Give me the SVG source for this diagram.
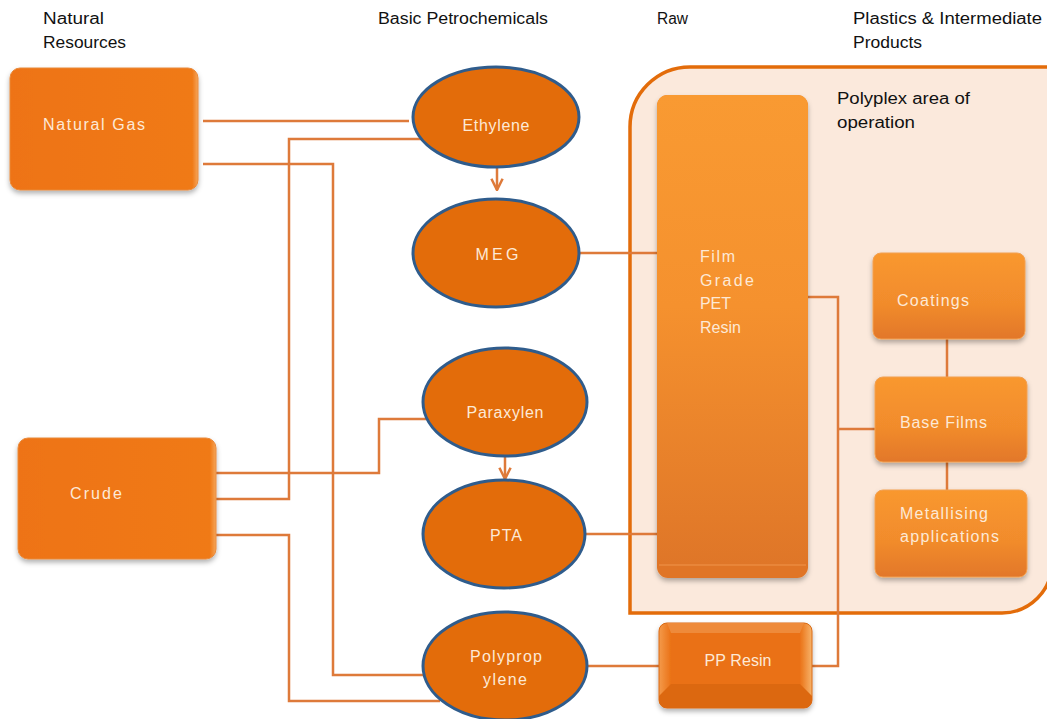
<svg xmlns="http://www.w3.org/2000/svg" width="1047" height="719" viewBox="0 0 1047 719">
<defs>
  <style>
    .hdr{font-family:"Liberation Sans",Arial,sans-serif;font-size:16px;fill:#111;}
    .lbl{font-family:"Liberation Sans",Arial,sans-serif;font-size:16px;fill:#FDE9D6;}
    .conn{fill:none;stroke:#DE7A3A;stroke-width:2.5;}
    .ell{fill:#E36C0A;stroke:#2F5C8C;stroke-width:3;}
    .src{fill:url(#srcGrad);stroke:#E98A3C;stroke-width:1;}
    .prod{fill:url(#prodGrad);stroke:#F2A050;stroke-width:1;}
  </style>
  <linearGradient id="srcGrad" x1="0" y1="0" x2="1" y2="0">
    <stop offset="0" stop-color="#EE7313"/>
    <stop offset="0.97" stop-color="#F07A18"/>
    <stop offset="1" stop-color="#F5A65A"/>
  </linearGradient>
  <linearGradient id="prodGrad" x1="0" y1="0" x2="0" y2="1">
    <stop offset="0" stop-color="#F9982F"/>
    <stop offset="0.6" stop-color="#F18B2C"/>
    <stop offset="1" stop-color="#E2772A"/>
  </linearGradient>
  <linearGradient id="petGrad" x1="0" y1="0" x2="0" y2="1">
    <stop offset="0" stop-color="#F99A32"/>
    <stop offset="0.45" stop-color="#F5912E"/>
    <stop offset="1" stop-color="#DF7628"/>
  </linearGradient>
  <linearGradient id="ppSide" x1="0" y1="0" x2="1" y2="0">
    <stop offset="0" stop-color="#F49A4A"/>
    <stop offset="0.08" stop-color="#EA7115"/>
    <stop offset="0.92" stop-color="#EA7115"/>
    <stop offset="1" stop-color="#F7B36A"/>
  </linearGradient>
  <filter id="shadow" x="-10%" y="-10%" width="125%" height="130%">
    <feDropShadow dx="0" dy="3" stdDeviation="2.5" flood-color="#000" flood-opacity="0.3"/>
  </filter>
  <marker id="arrow" viewBox="0 0 10 10" refX="9" refY="5" markerWidth="14" markerHeight="14" markerUnits="userSpaceOnUse" orient="auto">
    <path d="M1,1 L9,5 L1,9" fill="none" stroke="#DE7A3A" stroke-width="1.8"/>
  </marker>
</defs>

<rect width="1047" height="719" fill="#FFFFFF"/>

<!-- Headers -->
<g id="headers">
  <text class="hdr" x="43" y="24" textLength="61" lengthAdjust="spacingAndGlyphs">Natural</text>
  <text class="hdr" x="43" y="48" textLength="83" lengthAdjust="spacingAndGlyphs">Resources</text>
  <text class="hdr" x="378" y="24" textLength="170" lengthAdjust="spacingAndGlyphs">Basic Petrochemicals</text>
  <text class="hdr" x="657" y="24" textLength="31" lengthAdjust="spacingAndGlyphs">Raw</text>
  <text class="hdr" x="853" y="24" textLength="189" lengthAdjust="spacingAndGlyphs">Plastics &amp; Intermediate</text>
  <text class="hdr" x="853" y="48" textLength="69" lengthAdjust="spacingAndGlyphs">Products</text>
</g>

<!-- Polyplex area container -->
<g id="polyplex-area">
  <path d="M630,613 L630,127 A60,60 0 0 1 690,67 L1052,67 L1052,563 A50,50 0 0 1 1002,613 Z" fill="#FBE9DC" stroke="#E36C0A" stroke-width="3.5"/>
  <text class="hdr" x="837" y="104" textLength="133" lengthAdjust="spacingAndGlyphs">Polyplex area of</text>
  <text class="hdr" x="837" y="128" textLength="78" lengthAdjust="spacingAndGlyphs">operation</text>
</g>

<!-- Connectors -->
<g id="connectors">
  <path class="conn" d="M203,121 H409"/>
  <path class="conn" d="M216,499 H289 V139 H421"/>
  <path class="conn" d="M203,164 H333 V675 H424"/>
  <path class="conn" d="M216,473 H379 V419 H430"/>
  <path class="conn" d="M216,535 H289 V701 H440"/>
  <path class="conn" d="M579,253 H657"/>
  <path class="conn" d="M585,534 H657"/>
  <path class="conn" d="M587,666 H659"/>
  <path class="conn" d="M812,666 H838 V297 H808"/>
  <path class="conn" d="M838,429 H875"/>
  <path class="conn" d="M947,339 V377"/>
  <path class="conn" d="M947,462 V490"/>
  <path class="conn" d="M497,167 V190" marker-end="url(#arrow)"/>
  <path class="conn" d="M505,457 V479" marker-end="url(#arrow)"/>
</g>

<!-- Natural resources -->
<g id="natural-gas">
  <rect class="src" x="10" y="68" width="188" height="122" rx="10" filter="url(#shadow)"/>
  <text class="lbl" x="43" y="130" textLength="102" lengthAdjust="spacing">Natural Gas</text>
</g>
<g id="crude">
  <rect class="src" x="18" y="438" width="198" height="121" rx="10" filter="url(#shadow)"/>
  <text class="lbl" x="70" y="499" textLength="52" lengthAdjust="spacing">Crude</text>
</g>

<!-- Basic petrochemicals -->
<g id="ethylene">
  <ellipse class="ell" cx="496" cy="117" rx="83" ry="50"/>
  <text class="lbl" x="496" y="131" text-anchor="middle" textLength="67" lengthAdjust="spacing">Ethylene</text>
</g>
<g id="meg">
  <ellipse class="ell" cx="496" cy="253" rx="83" ry="54"/>
  <text class="lbl" x="497" y="260" text-anchor="middle" textLength="43" lengthAdjust="spacing">MEG</text>
</g>
<g id="paraxylen">
  <ellipse class="ell" cx="505" cy="402" rx="82" ry="54"/>
  <text class="lbl" x="505" y="418" text-anchor="middle" textLength="77" lengthAdjust="spacing">Paraxylen</text>
</g>
<g id="pta">
  <ellipse class="ell" cx="504" cy="534" rx="81" ry="54"/>
  <text class="lbl" x="506" y="541" text-anchor="middle" textLength="32" lengthAdjust="spacing">PTA</text>
</g>
<g id="polypropylene">
  <ellipse class="ell" cx="505" cy="666" rx="82" ry="54"/>
  <text class="lbl" x="506" y="662" text-anchor="middle" textLength="72" lengthAdjust="spacing">Polyprop</text>
  <text class="lbl" x="505" y="685" text-anchor="middle" textLength="44" lengthAdjust="spacing">ylene</text>
</g>

<!-- Raw -->
<g id="pet-resin">
  <rect x="657" y="95" width="151" height="483" rx="11" fill="#E07525" filter="url(#shadow)"/>
  <rect x="657" y="95" width="151" height="470" rx="10" fill="url(#petGrad)"/>
  <line x1="659" y1="565" x2="806" y2="565" stroke="#F0954A" stroke-width="1"/>
  <text class="lbl" x="700" y="262" textLength="35" lengthAdjust="spacing">Film</text>
  <text class="lbl" x="700" y="286" textLength="54" lengthAdjust="spacing">Grade</text>
  <text class="lbl" x="700" y="309" textLength="31" lengthAdjust="spacing">PET</text>
  <text class="lbl" x="700" y="333" textLength="41" lengthAdjust="spacing">Resin</text>
</g>
<g id="pp-resin">
  <rect x="659" y="623" width="153" height="85" rx="8" fill="url(#ppSide)" stroke="#D96A12" stroke-width="1" filter="url(#shadow)"/>
  <path d="M659,696 L671,684 L800,684 L812,696 L812,700 A8,8 0 0 1 804,708 L667,708 A8,8 0 0 1 659,700 Z" fill="#DC6810"/>
  <path d="M667,623 L804,623 L800,633 L671,633 Z" fill="#EE8A3A"/>
  <text class="lbl" x="738" y="666" text-anchor="middle" textLength="67" lengthAdjust="spacing">PP Resin</text>
</g>

<!-- Products -->
<g id="coatings">
  <rect class="prod" x="873" y="253" width="152" height="86" rx="8" filter="url(#shadow)"/>
  <text class="lbl" x="897" y="306" textLength="72" lengthAdjust="spacing">Coatings</text>
</g>
<g id="base-films">
  <rect class="prod" x="875" y="377" width="152" height="85" rx="8" filter="url(#shadow)"/>
  <text class="lbl" x="900" y="428" textLength="87" lengthAdjust="spacing">Base Films</text>
</g>
<g id="metallising">
  <rect class="prod" x="875" y="490" width="152" height="87" rx="8" filter="url(#shadow)"/>
  <text class="lbl" x="900" y="519" textLength="88" lengthAdjust="spacing">Metallising</text>
  <text class="lbl" x="900" y="542" textLength="99" lengthAdjust="spacing">applications</text>
</g>
</svg>
